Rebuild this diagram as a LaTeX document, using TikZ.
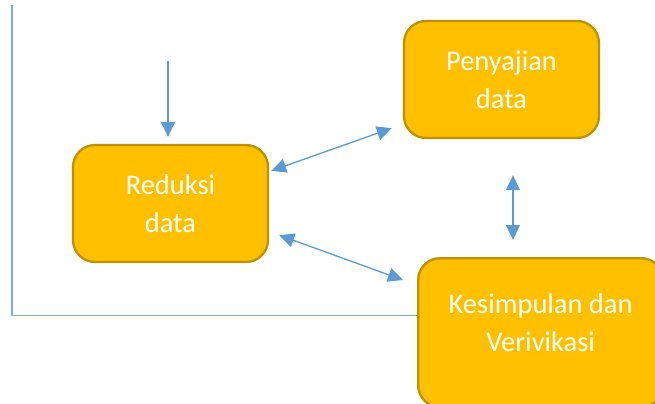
\documentclass[tikz,border=0pt]{standalone}
\usepackage{fontspec}
\setmainfont{Carlito}
\usetikzlibrary{arrows.meta}
\definecolor{boxfill}{HTML}{FFC000}
\definecolor{boxline}{HTML}{BF9000}
\definecolor{arrline}{HTML}{5B9BD5}
\begin{document}
\begin{tikzpicture}[
    boxtext/.style={text=white,align=center,font=\fontsize{16.2}{21.6}\selectfont},
    stepbox/.style={draw=boxline,line width=1.3pt,fill=boxfill,rectangle,rounded corners=0.44cm,minimum width=3.9cm,minimum height=2.34cm,boxtext},
    tip/.style={-{Triangle[length=0.3cm,width=0.28cm]}},
    link/.style={arrline,line width=0.75pt,{Triangle[length=0.3cm,width=0.28cm]}-{Triangle[length=0.3cm,width=0.28cm]}},
    ]
    \useasboundingbox (0,0) rectangle (13.1,-8.08);
    \clip (0,0) rectangle (13.1,-8.08);
    %% Boxes
    \node[stepbox] (red) at (3.41,-4.07) {Reduksi\\data};
    \node[stepbox] (pen) at (10.03,-1.59) {Penyajian\\data};
    \node[stepbox,minimum width=4.9cm,minimum height=2.98cm,anchor=north west,
        label={[boxtext,yshift=0.2cm]center:Kesimpulan dan\\Verivikasi}] (kes) at (8.34,-5.14) {};
    %% Frame
    \coordinate (frm) at (0.24,-0.1);
    \draw[arrline!80,line width=0.9pt] (frm) |- ([yshift=0.34cm]kes.west);
    %% Input
    \coordinate (inp) at (3.36,-1.22);
    \draw[arrline,line width=0.75pt,tip,shorten >=0.14cm] (inp) -- (inp |- red.north);
    %% Links
    \draw[link] ([shift={(0.04,-0.54)}]red.north east) -- ([shift={(-0.22,0.22)}]pen.south west);
    \draw[link] ([shift={(0.2,0.56)}]red.south east) -- ([shift={(-0.28,-0.46)}]kes.north west);
    \coordinate (vt) at ([shift={(0.23,-0.72)}]pen.south);
    \draw[link,shorten >=0.34cm] (vt) -- (vt |- kes.north);
\end{tikzpicture}
\end{document}
